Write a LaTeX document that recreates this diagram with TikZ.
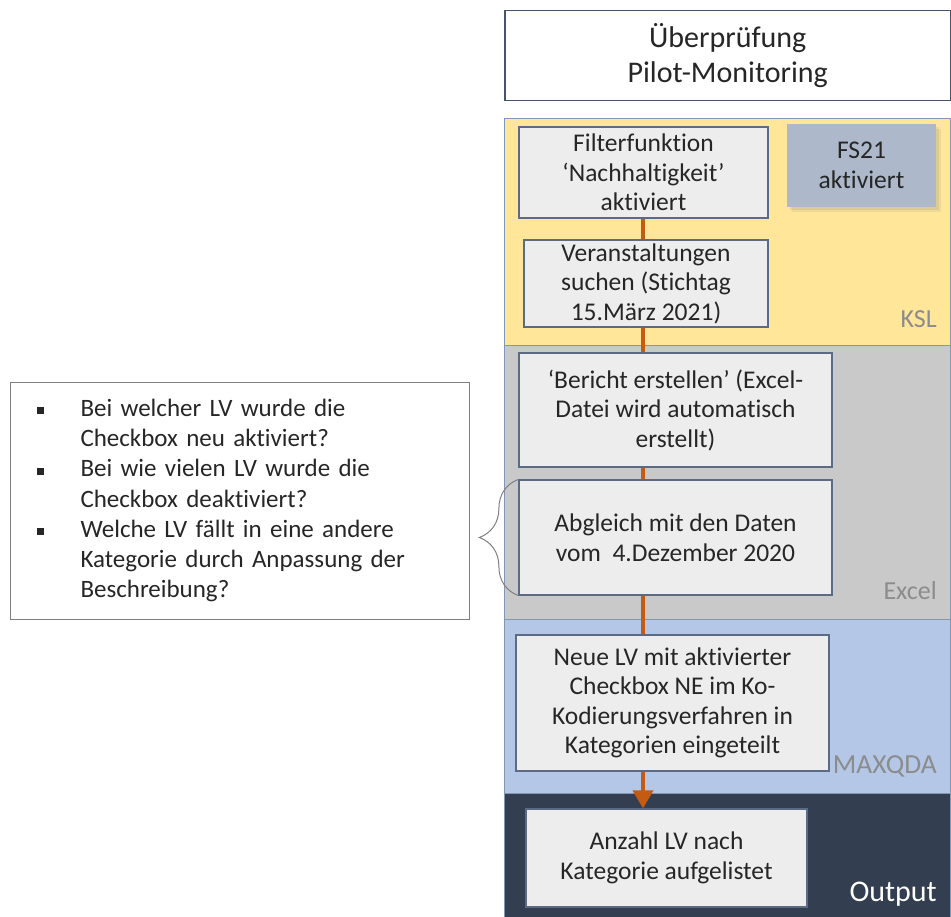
\documentclass[tikz,border=0pt]{standalone}
\usepackage{fontspec}
\setmainfont{Carlito}[Ligatures=NoCommon]
\usepackage{tikz}
\usetikzlibrary{arrows.meta, positioning, shadows, decorations.pathreplacing}

\definecolor{kslgelb}{HTML}{FFE699}
\definecolor{excelgrau}{HTML}{C9C9C9}
\definecolor{maxblau}{HTML}{B4C7E7}
\definecolor{outnavy}{HTML}{333F50}
\definecolor{bandrand}{HTML}{8497B0}
\definecolor{boxgrau}{HTML}{EDEDED}
\definecolor{boxrand}{HTML}{5B6B85}
\definecolor{fsblau}{HTML}{ADB9CA}
\definecolor{titelrand}{HTML}{44546A}
\definecolor{pfeil}{HTML}{C55A11}
\definecolor{etikettgrau}{HTML}{8C8C8C}
\definecolor{textgrau}{HTML}{262626}
\definecolor{klammergrau}{HTML}{7F7F7F}

\newcommand{\quadrat}{\rule[2pt]{7pt}{7pt}}

\begin{document}
\begin{tikzpicture}[x=1pt, y=-1pt,
		band/.style={draw=bandrand, line width=1pt, minimum width=446pt, anchor=north west, inner sep=0pt},
		schritt/.style={draw=boxrand, fill=boxgrau, line width=1.2pt, align=center, inner sep=0pt, text=textgrau, font=\fontsize{25.5}{29.5}\selectfont},
		etikett/.style={anchor=base east, inner sep=0pt, text=etikettgrau, font=\fontsize{26}{30}\selectfont},
		verbindung/.style={draw=pfeil, line width=4pt}]
		\useasboundingbox (0,0) rectangle (951,917);
		% Ebenen
		\node[band, fill=kslgelb, minimum height=227pt] (ksl) at (504,118) {};
		\node[band, fill=excelgrau, minimum height=274pt] (excel) at (504,345) {};
		\node[band, fill=maxblau, minimum height=174pt] (maxqda) at (504,619) {};
		\node[band, fill=outnavy, minimum height=125pt] (output) at (504,793) {};
		\node[etikett] (kslname) at (937,328) {KSL};
		\node[etikett] (excelname) at (937,599) {Excel};
		\node[etikett, font=\fontsize{27.5}{30}\selectfont] (maxname) at (937,773) {MAXQDA};
		\node[etikett, text=white, font=\fontsize{30}{30}\selectfont] (outname) at (937,901) {Output};
		% Titel
		\node[draw=titelrand, line width=1.5pt, fill=white, minimum width=446pt, minimum height=90pt, anchor=north west, align=center, text=textgrau, font=\fontsize{30}{35}\selectfont] (titel) at (504,10) {Überprüfung\\Pilot-Monitoring};
		% Schritte
		\node[schritt, minimum width=249pt, minimum height=91pt] (filter) at (643.5,172.5) {Filterfunktion\\‘Nachhaltigkeit’\\aktiviert};
		\node[schritt, draw=none, fill=fsblau, minimum width=149pt, minimum height=83pt, drop shadow={shadow xshift=5pt, shadow yshift=-5pt, opacity=0.12}, drop shadow={shadow xshift=3pt, shadow yshift=-3pt, opacity=0.15}] (fs) at (861.5,165.5) {FS21\\aktiviert};
		\node[schritt, minimum width=244pt, minimum height=87pt] (suche) at (646,283.5) {Veranstaltungen\\suchen (Stichtag\\15.März 2021)};
		\node[schritt, minimum width=313pt, minimum height=114pt] (bericht) at (675.5,410) {‘Bericht erstellen’ (Excel-\\Datei wird automatisch\\erstellt)};
		\node[schritt, minimum width=313pt, minimum height=115pt] (abgleich) at (675.5,537.5) {Abgleich mit den Daten\\vom~ 4.Dezember 2020};
		\node[schritt, minimum width=313pt, minimum height=136pt] (kodierung) at (672.5,703) {Neue LV mit aktivierter\\Checkbox NE im Ko-\\Kodierungsverfahren in\\Kategorien eingeteilt};
		\node[schritt, minimum width=281pt, minimum height=98pt] (anzahl) at (666.5,858) {Anzahl LV nach\\Kategorie aufgelistet};
		% Fragen
		\node[draw=klammergrau, line width=1pt, anchor=north west, minimum height=237pt, text width=407pt, inner xsep=26pt, align=left, text=textgrau, font=\fontsize{25}{30.2}\selectfont] (fragen) at (10,382)
		{\begin{tabular}{@{}l@{\hspace{37pt}}l@{}}
			\quadrat & Bei welcher LV wurde die\\
			& Checkbox neu aktiviert?\\
			\quadrat & Bei wie vielen LV wurde die\\
			& Checkbox deaktiviert?\\
			\quadrat & Welche LV fällt in eine andere\\
			& Kategorie durch Anpassung der\\
			& Beschreibung?
		\end{tabular}};
		% Verbindungen
		\coordinate (linie) at (643,0);
		\draw[verbindung] (filter.south -| linie) -- (suche.north -| linie);
		\draw[verbindung] (suche.south -| linie) -- (bericht.north -| linie);
		\draw[verbindung] (bericht.south -| linie) -- (abgleich.north -| linie);
		\draw[verbindung] (abgleich.south -| linie) -- (kodierung.north -| linie);
		\draw[verbindung, -{Triangle[width=20pt, length=18pt]}] (kodierung.south -| linie) -- (anzahl.north -| linie);
		\draw[draw=klammergrau, line width=1pt, decorate, decoration={brace, amplitude=39pt}] (abgleich.south west) -- (abgleich.north west);
	\end{tikzpicture}
\end{document}
